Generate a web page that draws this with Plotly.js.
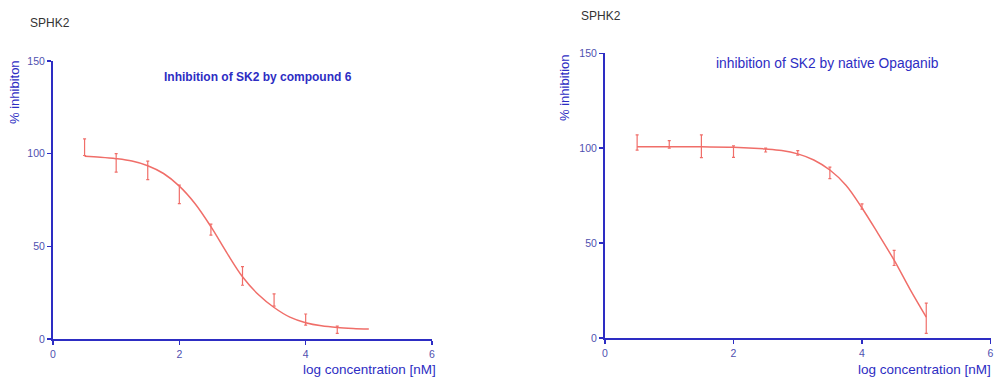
<!DOCTYPE html>
<html><head><meta charset="utf-8">
<script src="https://cdn.plot.ly/plotly-3.0.1.min.js"></script>
<style>html,body{margin:0;padding:0;background:#fff}#c{width:995px;height:377px}</style>
</head><body><div id="c"></div>
<script>
// Left panel: compound 6
const doseA = [0.5, 1, 1.5, 2, 2.5, 3, 3.5, 4, 4.5];
const meanA = [103.5, 95, 91, 78, 59, 34, 21, 10.5, 5];
const errA  = [4.5, 5, 5, 5, 3, 5, 3.3, 3, 2];
const fitXA = [0.5,0.75,1,1.25,1.5,1.75,2,2.25,2.5,2.75,3,3.25,3.5,3.75,4,4.25,4.5,4.75,5];
const fitYA = [98.6,98.1,97.3,96,93.5,89.3,82.5,73,60.6,46.6,33.6,24,17,11.8,8.8,7.1,6.2,5.7,5.4];
// Right panel: native Opaganib
const doseB = [0.5, 1, 1.5, 2, 2.5, 3, 3.5, 4, 4.5, 5];
const meanB = [103, 102, 101, 98.2, 99, 97.5, 87, 69.3, 42.2, 10.4];
const errB  = [4, 2, 6, 3, 1, 1.2, 3, 1.4, 4, 8];
const fitXB = [0.5,1,1.5,2,2.5,2.75,3,3.25,3.5,3.75,4,4.25,4.5,4.75,5];
const fitYB = [100.8,100.8,100.7,100.5,99.6,98.8,97,93.8,88.5,80.5,68.5,55,41,25.5,11];

const xTicks = [0, 2, 4, 6];
const yTicks = [0, 50, 100, 150];

const RED = 'rgb(240,110,105)';
const BLUE = 'rgb(45,45,195)';
const TICKC = 'rgb(80,80,175)';

function errTrace(x, y, e, xa, ya) {
  return {x, y, xaxis: xa, yaxis: ya, type: 'scatter', mode: 'markers',
    marker: {size: 2, color: RED, opacity: 0},
    error_y: {type: 'data', array: e, visible: true, color: RED, thickness: 1.2, width: 1.5},
    hoverinfo: 'skip', showlegend: false};
}
function fitTrace(x, y, xa, ya) {
  return {x, y, xaxis: xa, yaxis: ya, type: 'scatter', mode: 'lines',
    line: {color: RED, width: 1.5, shape: 'spline', smoothing: 1},
    hoverinfo: 'skip', showlegend: false};
}

const data = [
  fitTrace(fitXA, fitYA, 'x', 'y'),
  errTrace(doseA, meanA, errA, 'x', 'y'),
  fitTrace(fitXB, fitYB, 'x2', 'y2'),
  errTrace(doseB, meanB, errB, 'x2', 'y2')
];

function xax(dom, anchor) {
  return {domain: dom, anchor, range: [0, 6], tickvals: xTicks, ticktext: xTicks.map(String),
    showline: true, linecolor: BLUE, linewidth: 2, ticks: 'outside', ticklen: 4, tickwidth: 1.5,
    tickcolor: BLUE, showgrid: false, zeroline: false,
    tickfont: {family: 'Liberation Sans, Arial, sans-serif', size: 10.5, color: TICKC}};
}
function yax(dom, anchor) {
  return {domain: dom, anchor, range: [0, 150], tickvals: yTicks, ticktext: yTicks.map(String),
    showline: true, linecolor: BLUE, linewidth: 2, ticks: 'outside', ticklen: 4, tickwidth: 1.5,
    tickcolor: BLUE, showgrid: false, zeroline: false,
    tickfont: {family: 'Liberation Sans, Arial, sans-serif', size: 10.5, color: TICKC}};
}

const F = 'Liberation Sans, Arial, sans-serif';
const ann = (o) => Object.assign({xref: 'paper', yref: 'paper', showarrow: false}, o);
const px = (v) => v / 995, py = (v) => 1 - v / 377;

const layout = {
  width: 995, height: 377, margin: {l: 0, r: 0, t: 0, b: 0},
  paper_bgcolor: '#fff', plot_bgcolor: '#fff', showlegend: false,
  xaxis: xax([px(53), px(432)], 'y'),
  yaxis: yax([py(339), py(61)], 'x'),
  xaxis2: xax([px(605), px(990.5)], 'y2'),
  yaxis2: yax([py(338), py(53.3)], 'x2'),
  annotations: [
    ann({x: px(28), y: py(23), xanchor: 'left', yanchor: 'middle', text: 'SPHK2',
      font: {family: F, size: 12, color: '#333'}}),
    ann({x: px(579), y: py(16), xanchor: 'left', yanchor: 'middle', text: 'SPHK2',
      font: {family: F, size: 12, color: '#333'}}),
    ann({x: px(162), y: py(77), xanchor: 'left', yanchor: 'middle', text: '<b>Inhibition of SK2 by compound 6</b>',
      font: {family: F, size: 12, color: BLUE}}),
    ann({x: px(714), y: py(63), xanchor: 'left', yanchor: 'middle', text: 'inhibition of SK2 by native Opaganib',
      font: {family: F, size: 13.8, color: BLUE}}),
    ann({x: px(15), y: py(92), xanchor: 'center', yanchor: 'middle', textangle: -90, text: '% inhibiton',
      font: {family: F, size: 13, color: BLUE}}),
    ann({x: px(564), y: py(88), xanchor: 'center', yanchor: 'middle', textangle: -90, text: '% inhibition',
      font: {family: F, size: 13, color: BLUE}}),
    ann({x: px(438), y: py(369), xanchor: 'right', yanchor: 'middle', text: 'log concentration [nM]',
      font: {family: F, size: 13.5, color: BLUE}}),
    ann({x: px(993), y: py(369), xanchor: 'right', yanchor: 'middle', text: 'log concentration [nM]',
      font: {family: F, size: 13.5, color: BLUE}})
  ]
};

Plotly.newPlot('c', data, layout, {displayModeBar: false, staticPlot: true});
</script></body></html>
